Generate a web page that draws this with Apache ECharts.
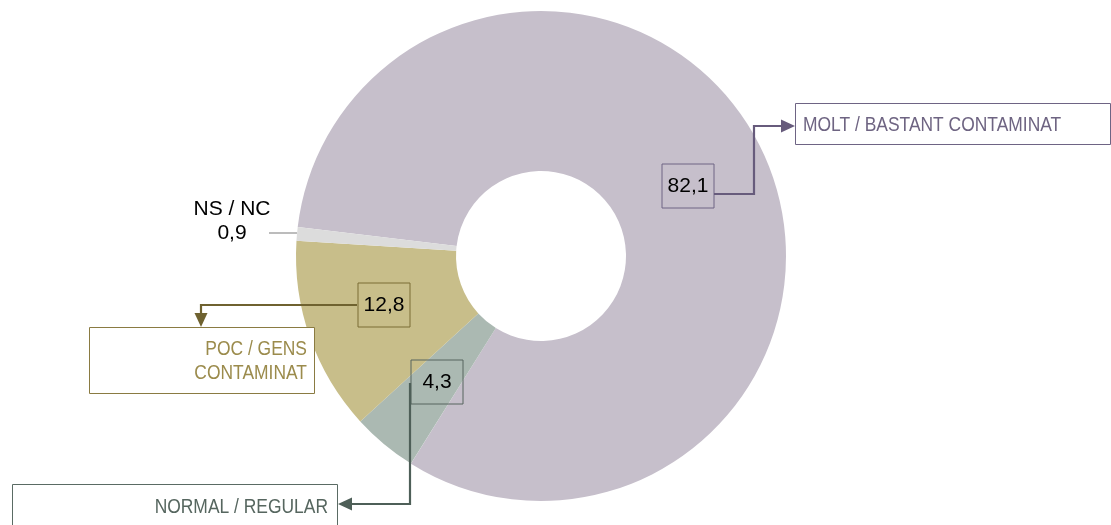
<!DOCTYPE html>
<html>
<head>
<meta charset="utf-8">
<script src="https://cdn.jsdelivr.net/npm/echarts@6/dist/echarts.min.js"></script>
<style>
  html, body { margin: 0; padding: 0; background: #fff; }
  #chart { width: 1111px; height: 525px; }
</style>
</head>
<body>
<div id="chart"></div>
<script>
// ---- data ----
const categories = ['MOLT / BASTANT CONTAMINAT', 'NORMAL / REGULAR', 'POC / GENS CONTAMINAT', 'NS / NC'];
const values = [82.1, 4.3, 12.8, 0.9];
const categoryLines = [['MOLT / BASTANT CONTAMINAT'], ['NORMAL / REGULAR'], ['POC / GENS', 'CONTAMINAT'], []];

// ---- styles ----
const sliceColors = ['#C6BFCB', '#ABB9B2', '#C8BE8A', '#DCDCDC'];
const boxColors = ['#6E6484', '#56655E', '#7A6C34', null];
const lineColors = ['#675B7C', '#4E5F58', '#6F6230', null];
const textColors = ['#6E6482', '#56665F', '#9B8B4C', '#000'];
const catBorder = ['#6E6484', '#5A6B64', '#8A7B42', null];

// label anchor positions (annotation layout)
const valuePos = [[688, 186], [437, 382], [384, 305], [232, 221]];

const fmt = v => String(v).replace('.', ',');

const chart = echarts.init(document.getElementById('chart'), null, { renderer: 'canvas' });

const data = categories.map((c, i) => ({
  name: c,
  value: values[i],
  itemStyle: { color: sliceColors[i] },
  label: i < 3 ? {
    borderColor: boxColors[i], borderWidth: 1,
    width: 52, height: 44, lineHeight: 44
  } : {
    borderWidth: 0, lineHeight: 24, formatter: p => p.name + '\n' + fmt(p.value)
  }
}));

const graphics = [];
const F = '21px "Liberation Sans", Arial, sans-serif';
// connectors
const conn = [
  { pts: [[714, 194], [754, 194], [754, 126], [782, 126]], arrow: [[781, 119.5], [795, 126], [781, 132.5]] },
  { pts: [[410, 383], [410, 504], [351, 504]], arrow: [[352, 497.5], [338, 504], [352, 510.5]] },
  { pts: [[357, 305], [201, 305], [201, 314]], arrow: [[194.5, 313], [207.5, 313], [201, 327]] }
];
conn.forEach((c, i) => {
  graphics.push({ type: 'polyline', shape: { points: c.pts }, style: { stroke: lineColors[i], lineWidth: 2.2, fill: null }, silent: true, z: 10 });
  graphics.push({ type: 'polygon', shape: { points: c.arrow }, style: { fill: lineColors[i] }, silent: true, z: 10 });
});
// category boxes
const catBoxes = [
  { x: 795.5, y: 103.5, w: 315, h: 41, tx: 803, ty: [125], align: 'left' },
  { x: 12.5, y: 484.5, w: 325, h: 60, tx: 328, ty: [507], align: 'right' },
  { x: 89.5, y: 327.5, w: 225, h: 66, tx: 307, ty: [349, 373], align: 'right' }
];
catBoxes.forEach((b, i) => {
  graphics.push({ type: 'rect', shape: { x: b.x, y: b.y, width: b.w, height: b.h }, style: { fill: '#fff', stroke: catBorder[i], lineWidth: 1 }, silent: true, z: 5 });
  categoryLines[i].forEach((t, k) => {
    graphics.push({ type: 'text', x: b.tx, y: b.ty[k], scaleX: 0.83, silent: true, z: 6,
      style: { text: t, x: 0, y: 0, font: F, fill: textColors[i], align: b.align, verticalAlign: 'middle' } });
  });
});
// NS/NC leader line
graphics.push({ type: 'line', shape: { x1: 269, y1: 233, x2: 297, y2: 233 }, style: { stroke: '#A6A6A6', lineWidth: 1.5 }, silent: true, z: 10 });

chart.setOption({
  animation: false,
  backgroundColor: '#fff',
  graphic: graphics,
  series: [{
    type: 'pie',
    center: [541, 256],
    radius: [85, 245],
    startAngle: 173.2,
    clockwise: true,
    avoidLabelOverlap: false,
    silent: true,
    data: data,
    label: {
      show: true,
      position: 'inside',
      formatter: p => fmt(p.value),
      color: '#000',
      fontSize: 21,
      fontFamily: '"Liberation Sans", Arial, sans-serif',
      align: 'center',
      verticalAlign: 'middle'
    },
    labelLine: { show: false },
    labelLayout: p => ({
      x: valuePos[p.dataIndex][0],
      y: valuePos[p.dataIndex][1],
      align: 'center',
      verticalAlign: 'middle'
    })
  }]
});
</script>
</body>
</html>
